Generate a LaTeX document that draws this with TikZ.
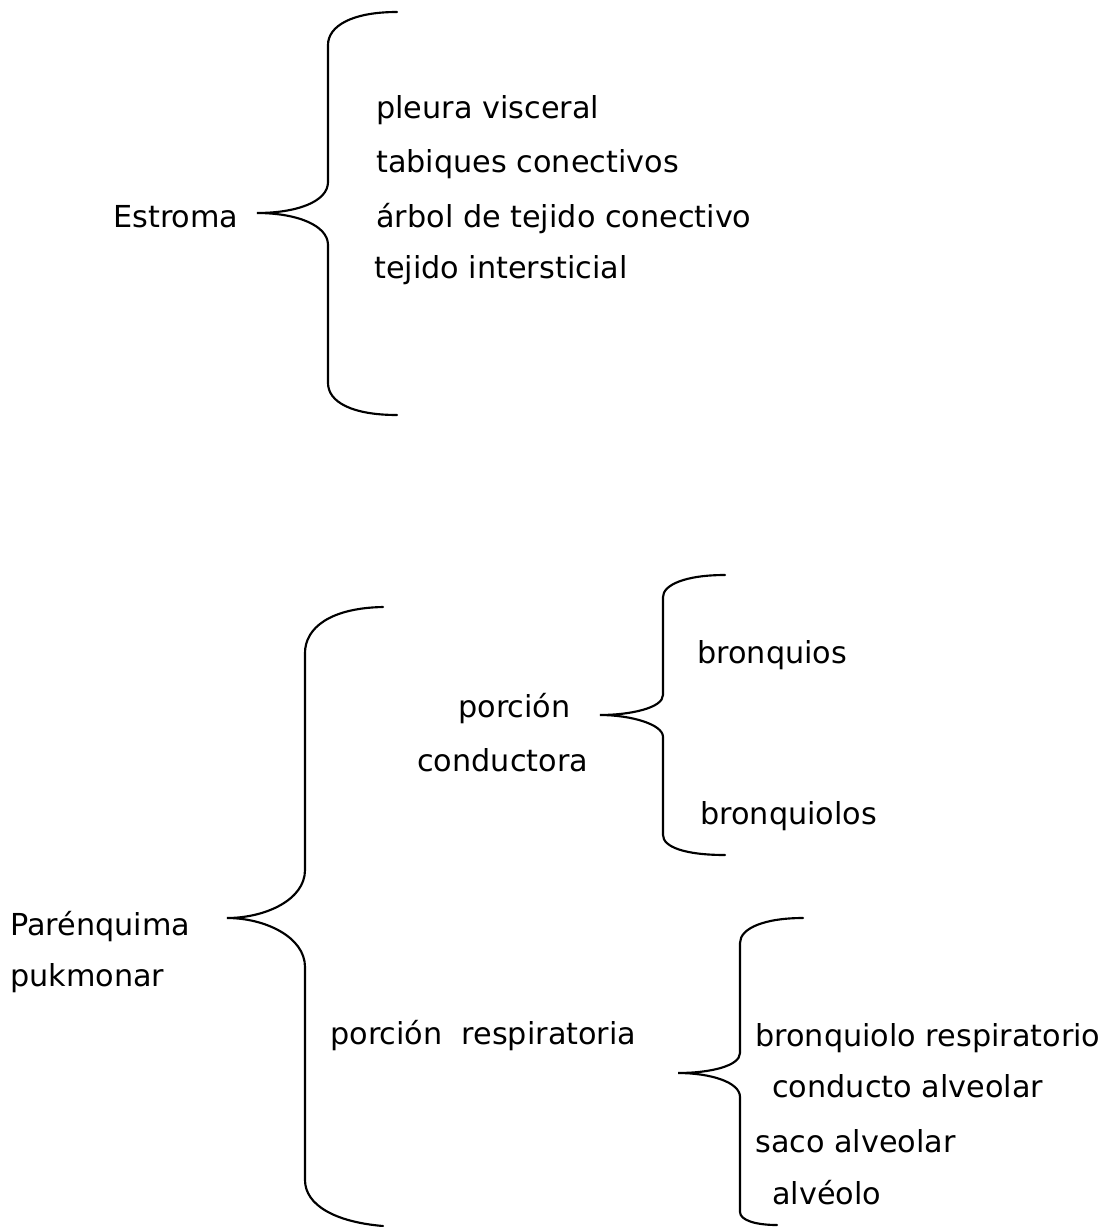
\documentclass[tikz,border=0pt]{standalone}
\usepackage{fontspec}
\setmainfont{DejaVu Sans}
\usetikzlibrary{positioning}

\tikzset{
	item/.style={anchor=base west,inner sep=0pt,font=\fontsize{22.7}{27}\selectfont},
	llave/.style={draw,line width=1.6pt,line cap=round}
}

\begin{document}
\begin{tikzpicture}[x=0.75pt,y=-0.75pt]
	\useasboundingbox (0,0) rectangle (1117,1227);

	% Estroma
	\node[item] (estroma) at (113,227) {Estroma};
	\node[item] (pleura) at (376,119) {pleura visceral};
	\node[item] (tabiques) at (376,172) {tabiques conectivos};
	\node[item] (arbol) at (376,227) {árbol de tejido conectivo};
	\node[item] (intersticial) at (374,278) {tejido intersticial};

	\draw[llave] (397,12) .. controls (352,12) and (328,26) .. (328,45) -- (328,182)
		.. controls (328,202) and (296,213) .. (257,213)
		.. controls (296,213) and (328,225) .. (328,245) -- (328,383)
		.. controls (328,402) and (352,415) .. (397,415);

	% Parenquima
	\node[item] (parenquima) at (10,935) {Parénquima};
	\node[item] (pukmonar) at (10,986) {pukmonar};

	\draw[llave] (383,607) .. controls (330,608) and (305,628) .. (305,653) -- (305,870)
		.. controls (305,900) and (265,918) .. (227,918)
		.. controls (265,918) and (305,937) .. (305,967) -- (305,1180)
		.. controls (305,1205) and (335,1222) .. (383,1226);

	% porcion conductora
	\node[item] (porcion) at (458,717) {porción};
	\node[item] (conductora) at (417,771) {conductora};
	\node[item] (bronquios) at (697,663) {bronquios};
	\node[item] (bronquiolos) at (700,824) {bronquiolos};

	\draw[llave] (725,575) .. controls (685,575) and (663,585) .. (663,597) -- (663,695)
		.. controls (663,708) and (630,715) .. (600,715)
		.. controls (630,715) and (663,724) .. (663,737) -- (663,835)
		.. controls (663,847) and (685,855) .. (725,855);

	% porcion respiratoria
	\node[item] (respiratoria) at (330,1044) {porción\ \ respiratoria};
	\node[item] (bresp) at (755,1046) {bronquiolo respiratorio};
	\node[item] (conducto) at (772,1097) {conducto alveolar};
	\node[item] (saco) at (755,1152) {saco alveolar};
	\node[item] (alveolo) at (772,1204) {alvéolo};

	\draw[llave] (803,918) .. controls (765,918) and (740,928) .. (740,943) -- (740,1053)
		.. controls (740,1066) and (710,1073) .. (678,1073)
		.. controls (710,1073) and (740,1082) .. (740,1097) -- (740,1212)
		.. controls (740,1220) and (755,1225) .. (777,1225);
\end{tikzpicture}
\end{document}
